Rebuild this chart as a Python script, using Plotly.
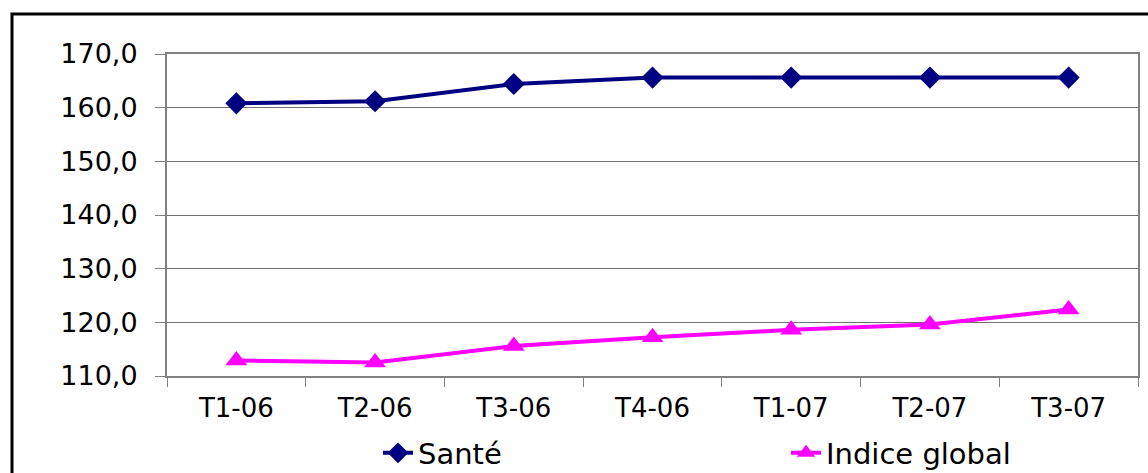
import plotly.graph_objects as go

categories = ["T1-06", "T2-06", "T3-06", "T4-06", "T1-07", "T2-07", "T3-07"]
sante = [160.8, 161.2, 164.4, 165.6, 165.6, 165.6, 165.6]
indice_global = [112.9, 112.5, 115.6, 117.2, 118.6, 119.6, 122.4]
y_ticks = [110, 120, 130, 140, 150, 160, 170]

W, H = 1148, 473
L, R, T, B = 167, 10, 54, 97
pw = W - L - R
ph = H - T - B

FONT = "DejaVu Sans, Liberation Sans, Arial"

fig = go.Figure()
fig.add_trace(go.Scatter(
    x=categories, y=sante, name="Santé", mode="lines+markers",
    line=dict(color="#000080", width=4),
    marker=dict(symbol="diamond", size=17, color="#000080"),
    legend="legend",
))
fig.add_trace(go.Scatter(
    x=categories, y=indice_global, name="Indice global", mode="lines+markers",
    line=dict(color="#FF00FF", width=4),
    marker=dict(symbol="triangle-up", size=19, color="#FF00FF"),
    legend="legend2",
))

# outer chart border (extends beyond the window on right/bottom)
fig.add_shape(type="rect", xref="paper", yref="paper",
              x0=(12 - L) / pw, x1=(W + 20 - L) / pw,
              y0=-(H + 20 - T - ph) / ph, y1=(H - 14 - B) / ph,
              line=dict(color="black", width=3), layer="below")

leg_y = (T + ph - 453) / ph
fig.update_layout(
    width=W, height=H,
    margin=dict(l=L, r=R, t=T, b=B, autoexpand=False),
    paper_bgcolor="white", plot_bgcolor="white",
    separators=", ",
    font=dict(family=FONT, color="black", size=26),
    showlegend=True,
    legend=dict(orientation="h", x=(378 - L) / pw, xanchor="left", y=leg_y, yanchor="middle",
                font=dict(size=29), bgcolor="rgba(0,0,0,0)"),
    legend2=dict(orientation="h", x=(786 - L) / pw, xanchor="left", y=leg_y, yanchor="middle",
                 font=dict(size=29), bgcolor="rgba(0,0,0,0)"),
    xaxis=dict(type="category", range=[-0.5, 6.5], showline=True, linecolor="#808080",
               linewidth=2, mirror=True, ticks="outside", tickson="boundaries",
               ticklen=9, tickcolor="#808080", tickwidth=1, showgrid=False,
               ticklabelstandoff=8, tickfont=dict(size=26)),
    yaxis=dict(range=[110, 170], tickvals=y_ticks, tickformat=".1f",
               showline=True, linecolor="#808080", linewidth=2, mirror=True,
               ticks="outside", ticklen=10, tickcolor="#808080",
               showgrid=True, gridcolor="#707070", gridwidth=1,
               ticklabelstandoff=12, tickfont=dict(size=27), zeroline=False),
)

fig.write_html("out.html", config={"displayModeBar": False},
               post_script="document.body.style.margin='0';document.body.style.overflow='hidden';")
